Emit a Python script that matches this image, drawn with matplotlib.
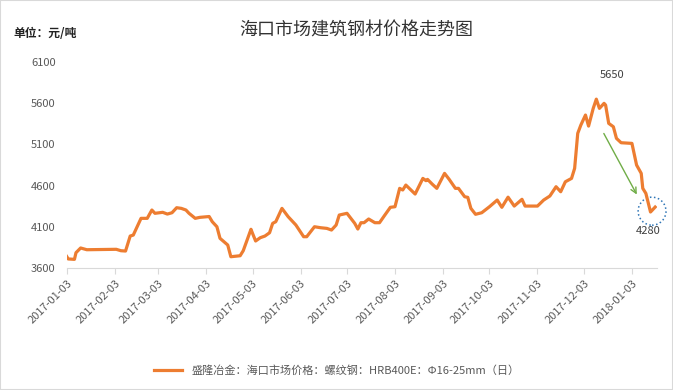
import matplotlib
matplotlib.use("Agg")
import matplotlib.pyplot as plt
import matplotlib.dates as mdates
from matplotlib.patches import Ellipse, Rectangle
import pandas as pd

plt.rcParams['font.family'] = ['Noto Sans CJK SC', 'DejaVu Sans']

# data
dates = ['2017-01-03', '2017-01-04', '2017-01-08', '2017-01-09', '2017-01-12', '2017-01-16',
         '2017-02-04', '2017-02-07', '2017-02-10', '2017-02-13', '2017-02-15', '2017-02-20',
         '2017-02-24', '2017-02-27', '2017-03-01', '2017-03-06', '2017-03-09', '2017-03-12',
         '2017-03-15', '2017-03-18', '2017-03-21', '2017-03-23', '2017-03-27', '2017-03-30',
         '2017-04-05', '2017-04-07', '2017-04-10', '2017-04-12', '2017-04-14', '2017-04-17',
         '2017-04-19', '2017-04-25', '2017-04-27', '2017-05-02', '2017-05-03', '2017-05-05',
         '2017-05-08', '2017-05-11', '2017-05-14', '2017-05-16', '2017-05-18', '2017-05-22',
         '2017-05-26', '2017-05-31', '2017-06-05', '2017-06-07', '2017-06-12', '2017-06-16',
         '2017-06-20', '2017-06-23', '2017-06-26', '2017-06-28', '2017-07-03', '2017-07-08',
         '2017-07-10', '2017-07-12', '2017-07-14', '2017-07-17', '2017-07-21', '2017-07-24',
         '2017-07-27', '2017-07-31', '2017-08-03', '2017-08-06', '2017-08-08', '2017-08-10',
         '2017-08-16', '2017-08-21', '2017-08-23', '2017-08-24', '2017-08-27', '2017-08-30',
         '2017-09-04', '2017-09-07', '2017-09-11', '2017-09-13', '2017-09-17', '2017-09-19',
         '2017-09-21', '2017-09-24', '2017-09-28', '2017-10-03', '2017-10-08', '2017-10-11',
         '2017-10-15', '2017-10-19', '2017-10-24', '2017-10-26', '2017-11-03', '2017-11-07',
         '2017-11-11', '2017-11-15', '2017-11-18', '2017-11-21', '2017-11-25', '2017-11-27',
         '2017-11-29', '2017-12-01', '2017-12-04', '2017-12-06', '2017-12-09', '2017-12-11',
         '2017-12-13', '2017-12-16', '2017-12-17', '2017-12-19', '2017-12-22', '2017-12-24',
         '2017-12-27', '2018-01-03', '2018-01-06', '2018-01-09', '2018-01-10', '2018-01-12',
         '2018-01-15', '2018-01-18']
prices = [3740, 3710, 3705, 3786, 3843, 3822,
          3827, 3810, 3806, 3988, 4000, 4203,
          4203, 4304, 4264, 4276, 4255, 4271,
          4332, 4324, 4304, 4264, 4203, 4215,
          4225, 4162, 4101, 3960, 3928, 3879,
          3737, 3749, 3810, 4070, 4021, 3928,
          3968, 3988, 4028, 4142, 4162, 4324,
          4223, 4122, 3980, 3980, 4101, 4089,
          4081, 4061, 4122, 4243, 4264, 4142,
          4073, 4150, 4150, 4195, 4150, 4150,
          4231, 4337, 4344, 4567, 4547, 4607,
          4498, 4688, 4660, 4676, 4619, 4567,
          4749, 4676, 4567, 4567, 4465, 4458,
          4324, 4252, 4271, 4344, 4425, 4337,
          4460, 4352, 4434, 4352, 4352, 4425,
          4474, 4587, 4526, 4647, 4688, 4810,
          5235, 5335, 5457, 5323, 5538, 5650,
          5538, 5599, 5578, 5356, 5315, 5174,
          5121, 5113, 4850, 4749, 4567, 4506,
          4280, 4340]
tick_dates = ['2017-01-03', '2017-02-03', '2017-03-03', '2017-04-03', '2017-05-03', '2017-06-03',
              '2017-07-03', '2017-08-03', '2017-09-03', '2017-10-03', '2017-11-03', '2017-12-03',
              '2018-01-03']
y_ticks = [3600, 4100, 4600, 5100, 5600, 6100]
title = '海口市场建筑钢材价格走势图'
unit = '单位：元/吨'
series_name = '盛隆冶金：海口市场价格：螺纹钢：HRB400E：Φ16-25mm（日）'

x = pd.to_datetime(dates)
ticks = pd.to_datetime(tick_dates)

fig = plt.figure(figsize=(6.73, 3.9), dpi=100)
ax = fig.add_axes([0.0991, 0.3128, 0.8767, 0.528])

ax.plot(x, prices, color='#ED7D31', lw=2.3, label=series_name, solid_joinstyle='round')

ax.set_xlim(pd.Timestamp('2017-01-03'), pd.Timestamp('2018-01-19'))
ax.set_ylim(3600, 6100)
ax.set_yticks(y_ticks)
ax.set_xticks(ticks)
ax.set_xticklabels(tick_dates, rotation=45, ha='right', va='top', rotation_mode='anchor')
ax.tick_params(axis='y', length=0, labelsize=8, labelcolor='#595959', pad=8)
ax.tick_params(axis='x', length=4, color='#d9d9d9', labelsize=8, labelcolor='#595959', pad=3)
for s in ['top', 'right', 'left']:
    ax.spines[s].set_visible(False)
ax.spines['bottom'].set_color('#d9d9d9')

# peak and the low after it
i_max = prices.index(max(prices))
i_min = i_max + prices[i_max:].index(min(prices[i_max:]))
ax.annotate(str(prices[i_max]), (x[i_max], prices[i_max]), xytext=(11, 14),
            textcoords='offset points', ha='center', va='bottom', fontsize=8, color='#404040')
ax.annotate(str(prices[i_min]), (x[i_min], prices[i_min]), xytext=(-2, -14),
            textcoords='offset points', ha='center', va='center', fontsize=8, color='#404040')
ax.add_patch(Ellipse((mdates.date2num(x[i_min]) + 1, prices[i_min] + 10), 18, 340,
                     fill=False, ls=':', lw=1.1, edgecolor='#2E75B6', clip_on=False))
ax.annotate('', xy=(pd.Timestamp('2018-01-07'), 4462), xytext=(pd.Timestamp('2017-12-15'), 5263),
            arrowprops=dict(arrowstyle='->', color='#70AD47', lw=1.0))

fig.text(0.53, 0.922, title, ha='center', va='center', fontsize=13, color='#333333')
fig.text(0.02, 0.915, unit, ha='left', va='center', fontsize=8.5, color='#222222', fontweight='bold')

fig.legend(loc='center', bbox_to_anchor=(0.5, 0.051), frameon=False, fontsize=8,
           handlelength=2.6, labelcolor='#595959')

fig.patches.append(Rectangle((0, 0), 1, 1, transform=fig.transFigure, fill=False,
                             edgecolor='#d9d9d9', lw=1.5))

fig.savefig('out.png', dpi=100)
